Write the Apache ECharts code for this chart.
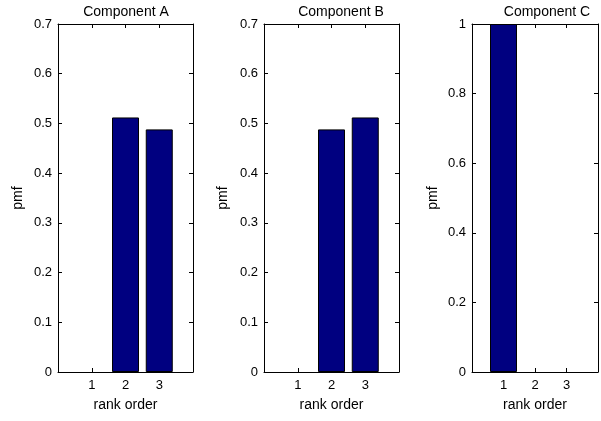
<!DOCTYPE html>
<html>
<head>
<meta charset="utf-8">
<script src="https://cdn.jsdelivr.net/npm/echarts@6/dist/echarts.min.js"></script>
<style>
    html, body { margin: 0; padding: 0; background: #fff; }
    #chart { width: 601px; height: 421px; }
</style>
</head>
<body>
<div id="chart"></div>
<script>
// rank positions and pmf values per component
const ranks = [1, 2, 3];
const pmfA = [0, 0.512, 0.488];
const pmfB = [0, 0.488, 0.512];
const pmfC = [1, 0, 0];
const titles = ['Component A', 'Component B', 'Component C'];
const yMax = [0.7, 0.7, 1];
const yStep = [0.1, 0.1, 0.2];

const chart = echarts.init(document.getElementById('chart'));

const font = 'Liberation Sans, Arial, Helvetica, sans-serif';
const grids = [
    { left: 58, top: 24, width: 135, height: 348 },
    { left: 264, top: 24, width: 135, height: 348 },
    { left: 472, top: 24, width: 134, height: 348 },
];
const titleX = [121, 336, 542];
const nameGap = [33, 34, 32];
const allData = [pmfA, pmfB, pmfC];

const lineStyle = { color: '#000', width: 1 };

let xAxis = [], yAxis = [], series = [], title = [];
grids.forEach(function (g, i) {
    title.push({
        text: titles[i],
        left: titleX[i],
        top: 0,
        textAlign: 'center',
        textStyle: { fontFamily: font, fontSize: 14, fontWeight: 'normal', color: '#000' }
    });
    // bottom x axis
    xAxis.push({
        type: 'value', gridIndex: i, min: 0, max: 4, interval: 1,
        name: 'rank order', nameLocation: 'middle', nameGap: 26,
        nameTextStyle: { fontFamily: font, fontSize: 14, color: '#000' },
        axisLine: { show: true, onZero: false, lineStyle: lineStyle },
        axisTick: { show: true, inside: true, length: 4, lineStyle: lineStyle },
        axisLabel: {
            fontFamily: font, fontSize: 13, color: '#000', margin: 7,
            formatter: function (v) { return (v >= 1 && v <= 3) ? String(v) : ''; }
        },
        splitLine: { show: false }
    });
    // top x axis (box frame)
    xAxis.push({
        type: 'value', gridIndex: i, position: 'top', min: 0, max: 4, interval: 1,
        axisLine: { show: true, onZero: false, lineStyle: lineStyle },
        axisTick: { show: true, inside: true, length: 4, lineStyle: lineStyle },
        axisLabel: { show: false },
        splitLine: { show: false }
    });
    yAxis.push({
        type: 'value', gridIndex: i, min: 0, max: yMax[i], interval: yStep[i],
        name: 'pmf', nameLocation: 'middle', nameGap: nameGap[i],
        nameTextStyle: { fontFamily: font, fontSize: 14, color: '#000' },
        axisLine: { show: true, onZero: false, lineStyle: lineStyle },
        axisTick: { show: true, inside: true, length: 4, lineStyle: lineStyle },
        axisLabel: { fontFamily: font, fontSize: 13, color: '#000', margin: 6 },
        splitLine: { show: false }
    });
    yAxis.push({
        type: 'value', gridIndex: i, position: 'right', min: 0, max: yMax[i], interval: yStep[i],
        axisLine: { show: true, onZero: false, lineStyle: lineStyle },
        axisTick: { show: true, inside: true, length: 4, lineStyle: lineStyle },
        axisLabel: { show: false },
        splitLine: { show: false }
    });
    series.push({
        type: 'bar',
        xAxisIndex: i * 2,
        yAxisIndex: i * 2,
        barWidth: 27,
        data: ranks.map(function (r, k) {
            const v = allData[i][k];
            // empty bars get no outline
            return v > 0 ? [r, v] : { value: [r, v], itemStyle: { borderWidth: 0, opacity: 0 } };
        }),
        itemStyle: { color: '#000080', borderColor: '#000', borderWidth: 1 },
        silent: true
    });
});

chart.setOption({
    backgroundColor: '#fff',
    animation: false,
    title: title,
    grid: grids,
    xAxis: xAxis,
    yAxis: yAxis,
    series: series
});
</script>
</body>
</html>
